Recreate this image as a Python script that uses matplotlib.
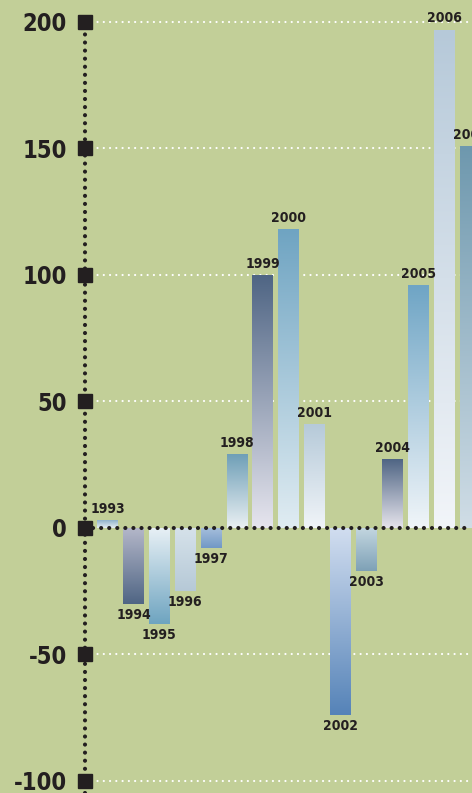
import numpy as np
import matplotlib
matplotlib.use("Agg")
import matplotlib.pyplot as plt
from matplotlib.colors import LinearSegmentedColormap
from matplotlib import font_manager

plt.rcParams['lines.scale_dashes'] = False
plt.rcParams['font.family'] = ['DejaVu Sans']
plt.rcParams['font.stretch'] = 'condensed'

print([f.name + ' ' + str(f.stretch) for f in font_manager.fontManager.ttflist if 'Condensed' in f.fname or 'Narrow' in f.fname])

# Yearly values
years = [1993, 1994, 1995, 1996, 1997, 1998, 1999, 2000,
         2001, 2002, 2003, 2004, 2005, 2006, 2007]
values = [3, -30, -38, -25, -8, 29, 100, 118,
          41, -74, -17, 27, 96, 197, 151]

# gradient colours per bar: (top, bottom)
top_colors = ['#8fb2cb', '#b4b7c9', '#e9f1f6', '#d6e2ea', '#a8c0dc', '#6f9fb7', '#4f6584', '#6fa4c2',
              '#b6cad9', '#d2def0', '#c3d6e0', '#4f6584', '#6fa5c5', '#b6c9d9', '#6e98ae']
bottom_colors = ['#e6eef3', '#4f6584', '#6ea4c0', '#b6c9d7', '#7198c6', '#eaf0f3', '#e6e5ee', '#e0ecf2',
                 '#f0f4f8', '#5583b8', '#7ea1b6', '#e6e4ec', '#f0f5f9', '#f2f5f9', '#d0dde6']

yticks = [200, 150, 100, 50, 0, -50, -100]

bg = '#c2cf98'
ink = '#231f20'

fig = plt.figure(figsize=(4.72, 7.93), dpi=100, facecolor=bg)
ax = fig.add_axes([85 / 472, 0, 1 - 85 / 472, 1])
ax.set_facecolor(bg)
ax.set_xlim(1992.13, 2007.07)
ax.set_ylim(-104.9, 208.7)

for s in ax.spines.values():
    s.set_visible(False)
ax.set_xticks([])
ax.set_yticks(yticks)
ax.set_yticklabels([str(t) for t in yticks])
ax.tick_params(axis='y', length=0, pad=13, labelsize=17, labelcolor=ink)
for lbl in ax.get_yticklabels():
    lbl.set_fontweight('bold')
    lbl.set_fontstretch('condensed')

# white dotted gridlines behind the bars
for t in yticks:
    if t != 0:
        ax.axhline(t, color='white', lw=1.6, linestyle=(0, (0.01, 4.5)),
                   dash_capstyle='round', zorder=1)

bar_w = 0.81
bars = ax.bar(years, values, width=bar_w, color='none', edgecolor='none', zorder=2)
for bar, v, c_top, c_bot in zip(bars, values, top_colors, bottom_colors):
    x0 = bar.get_x()
    cmap = LinearSegmentedColormap.from_list('g', [c_top, c_bot])
    grad = np.linspace(0, 1, 256).reshape(-1, 1)
    lo, hi = min(0, v), max(0, v)
    im = ax.imshow(grad, cmap=cmap, aspect='auto', extent=[x0, x0 + bar_w, lo, hi],
                   origin='upper', zorder=2, interpolation='bilinear')
    im.set_clip_path(bar)

# year labels above / below bars
for yr, v in zip(years, values):
    up = v >= 0
    ax.annotate(str(yr), (yr, v), xytext=(0, 3 if up else -3), textcoords='offset points',
                ha='center', va='bottom' if up else 'top', fontsize=10, fontweight='bold',
                fontstretch='condensed', color=ink, zorder=5, annotation_clip=False)

# black dotted zero line over the bars
ax.axhline(0, color=ink, lw=3.0, linestyle=(0, (0.01, 5.8)),
           dash_capstyle='round', zorder=4)

# dotted vertical axis with square tick markers
x_axis = ax.get_xlim()[0]
ax.plot([x_axis, x_axis], [ax.get_ylim()[0], yticks[0]], color=ink, lw=3.0,
        linestyle=(0, (0.01, 5.8)), dash_capstyle='round', zorder=4, clip_on=False)
ax.plot([x_axis] * len(yticks), yticks, linestyle='none', marker='s',
        markersize=10.5, color=ink, zorder=6, clip_on=False)

fig.savefig('out.png', dpi=100, facecolor=bg)
